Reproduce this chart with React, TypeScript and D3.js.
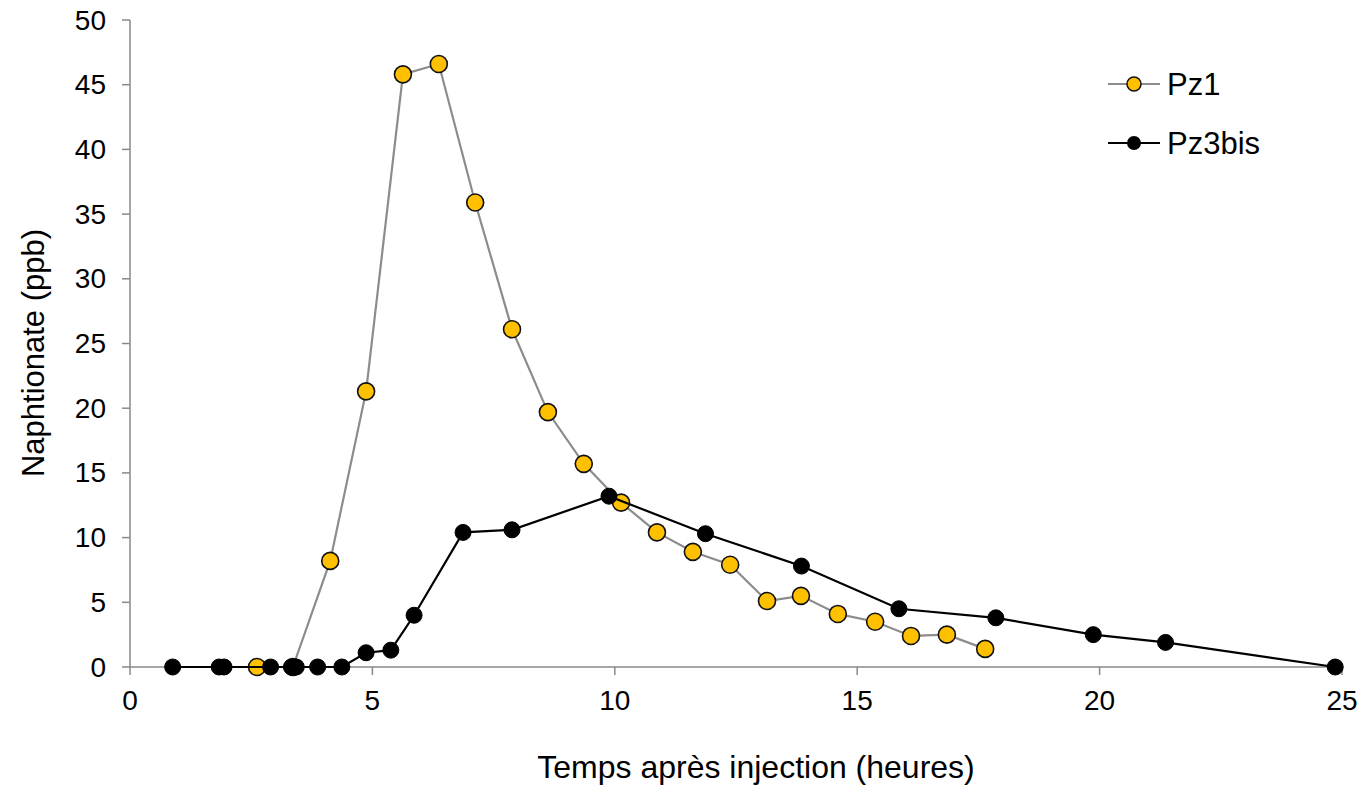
import React from "react";
import * as d3 from "d3";

const pz1X = [2.62, 3.36, 4.13, 4.87, 5.63, 6.37, 7.12, 7.88, 8.62, 9.36, 10.13, 10.87, 11.61, 12.38, 13.14, 13.84, 14.6, 15.37, 16.11, 16.85, 17.64];
const pz1Y = [0, 0, 8.2, 21.3, 45.8, 46.6, 35.9, 26.1, 19.7, 15.7, 12.7, 10.4, 8.9, 7.9, 5.1, 5.5, 4.1, 3.5, 2.4, 2.5, 1.4];
const pz3X = [0.88, 1.84, 1.94, 2.9, 3.33, 3.43, 3.87, 4.37, 4.87, 5.38, 5.86, 6.87, 7.88, 9.88, 11.87, 13.85, 15.86, 17.86, 19.87, 21.36, 24.86];
const pz3Y = [0, 0, 0, 0, 0, 0, 0, 0, 1.1, 1.3, 4.0, 10.4, 10.6, 13.2, 10.3, 7.8, 4.5, 3.8, 2.5, 1.9, 0];
const xTicks = [0, 5, 10, 15, 20, 25];
const yTicks = [0, 5, 10, 15, 20, 25, 30, 35, 40, 45, 50];
const seriesNames = ["Pz1", "Pz3bis"];

export default function App() {
  const W = 1363, H = 787;
  const x = d3.scaleLinear().domain([0, 25]).range([130, 1342]);
  const y = d3.scaleLinear().domain([0, 50]).range([667, 20]);
  const line = d3.line<[number, number]>().x(d => x(d[0])).y(d => y(d[1]));
  const p1 = pz1X.map((v, i) => [v, pz1Y[i]] as [number, number]);
  const p3 = pz3X.map((v, i) => [v, pz3Y[i]] as [number, number]);
  const font = "Liberation Sans, Arial, sans-serif";
  const axisColor = "#898989";
  return (
    <svg width={W} height={H} style={{ position: "absolute", left: 0, top: 0 }} fontFamily={font}>
      <rect width={W} height={H} fill="#fff" />
      {/* axes */}
      <line x1={x(0)} x2={x(0)} y1={y(50)} y2={y(0)} stroke={axisColor} strokeWidth={1.5} />
      <line x1={x(0)} x2={x(25)} y1={y(0)} y2={y(0)} stroke={axisColor} strokeWidth={1.5} />
      {yTicks.map(t => (
        <g key={"y" + t}>
          <line x1={x(0) - 8} x2={x(0)} y1={y(t)} y2={y(t)} stroke={axisColor} strokeWidth={1.5} />
          <text x={x(0) - 24} y={y(t)} dy="0.34em" textAnchor="end" fontSize={28} fill="#000">{t}</text>
        </g>
      ))}
      {xTicks.map(t => (
        <g key={"x" + t}>
          <line x1={x(t)} x2={x(t)} y1={y(0)} y2={y(0) + 8} stroke={axisColor} strokeWidth={1.5} />
          <text x={x(t)} y={y(0) + 43} textAnchor="middle" fontSize={28} fill="#000">{t}</text>
        </g>
      ))}
      <text x={756} y={778} textAnchor="middle" fontSize={32} fill="#000">Temps après injection (heures)</text>
      <text transform={`translate(44,353) rotate(-90)`} textAnchor="middle" fontSize={31} fill="#000">Naphtionate (ppb)</text>
      {/* Pz1 */}
      <path d={line(p1) || ""} fill="none" stroke="#8c8c8c" strokeWidth={2.2} />
      {p1.map((d, i) => (
        <circle key={"a" + i} cx={x(d[0])} cy={y(d[1])} r={8.5} fill="#FFC000" stroke="#111" strokeWidth={1.6} />
      ))}
      {/* Pz3bis */}
      <path d={line(p3) || ""} fill="none" stroke="#000" strokeWidth={2.2} />
      {p3.map((d, i) => (
        <circle key={"b" + i} cx={x(d[0])} cy={y(d[1])} r={8} fill="#000" stroke="#000" strokeWidth={1} />
      ))}
      {/* legend */}
      <line x1={1108} x2={1160} y1={84} y2={84} stroke="#8c8c8c" strokeWidth={2.2} />
      <circle cx={1134} cy={84} r={7} fill="#FFC000" stroke="#111" strokeWidth={1.5} />
      <text x={1167} y={84} dy="0.36em" fontSize={31} fill="#000">{seriesNames[0]}</text>
      <line x1={1108} x2={1160} y1={143} y2={143} stroke="#000" strokeWidth={2.2} />
      <circle cx={1134} cy={143} r={7} fill="#000" />
      <text x={1167} y={143} dy="0.36em" fontSize={31} fill="#000">{seriesNames[1]}</text>
    </svg>
  );
}
